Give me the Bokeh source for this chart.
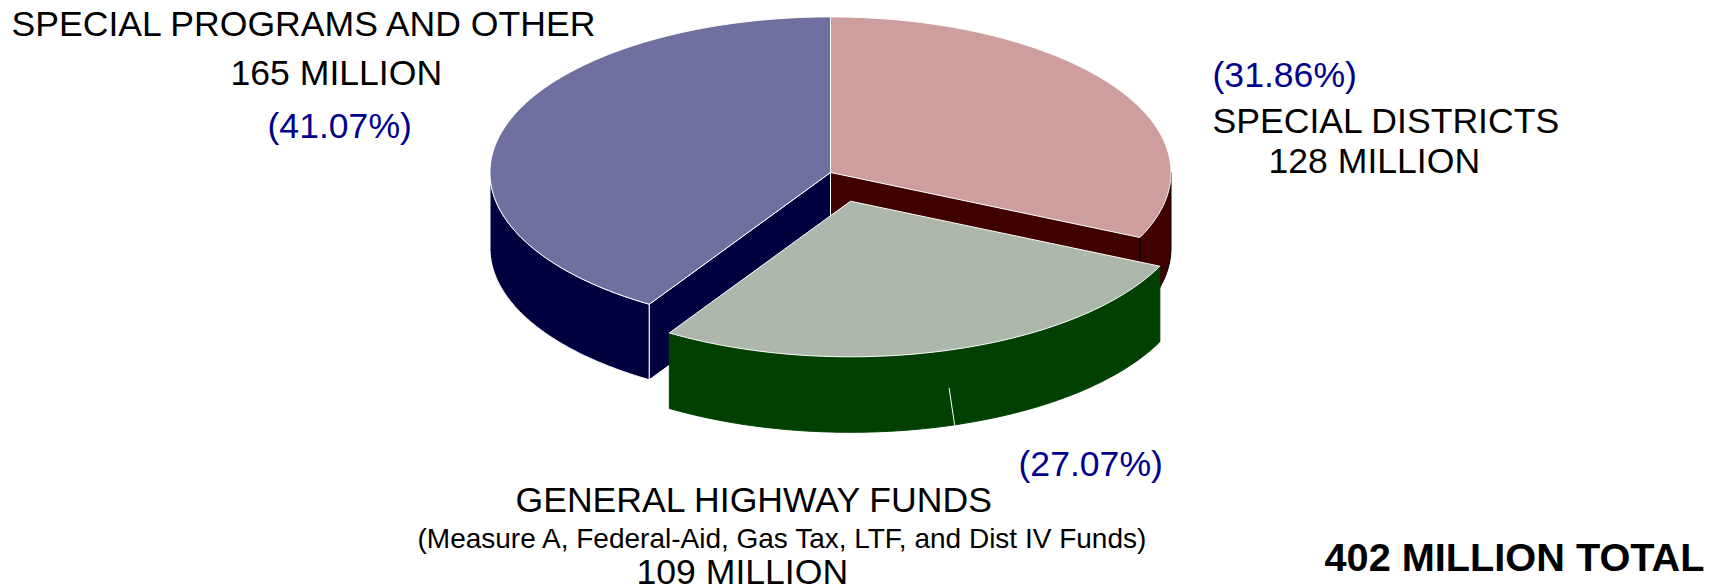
import numpy as np
from bokeh.plotting import figure
from bokeh.models import Range1d, ColumnDataSource
from bokeh.core.properties import value
from bokeh.embed import file_html
from bokeh.resources import INLINE

# data
slice_names = ["SPECIAL DISTRICTS", "GENERAL HIGHWAY FUNDS", "SPECIAL PROGRAMS AND OTHER"]
slice_millions = [128, 109, 165]
slice_shares = [31.86, 27.07, 41.07]
top_colors = ["#CE9E9E", "#ADB7AC", "#6F70A0"]
side_colors = ["#400000", "#004000", "#00003F"]

black_labels = ["SPECIAL PROGRAMS AND OTHER", "165 MILLION", "SPECIAL DISTRICTS", "128 MILLION",
                "GENERAL HIGHWAY FUNDS", "109 MILLION"]
black_x = [11, 230, 1212, 1268, 515, 636]
black_y = [23, 72, 120.5, 160, 499, 571.6]
blue_labels = ["(41.07%)", "(31.86%)", "(27.07%)"]
blue_x = [267, 1212, 1018]
blue_y = [125, 74, 463]
note_label = "(Measure A, Federal-Aid, Gas Tax, LTF, and Dist IV Funds)"
total_label = "402 MILLION TOTAL"

# projection of the tilted pie, in page pixels
W, H = 1717, 587
CX, CY, RX, RY, DEPTH = 830.0, 172.0, 340.5, 155.6, 75.5
EXPLODE = (20.0, 28.7)


def arc(a0, a1, cx, cy, dy=0.0):
    t = np.radians(np.linspace(a0, a1, max(2, int(abs(a1 - a0) * 2) + 1)))
    return cx + RX * np.sin(t), cy - RY * np.cos(t) + dy


edges = np.concatenate([[0.0], np.cumsum(slice_shares)]) / sum(slice_shares) * 360.0
a_pink, a_green, a_blue = edges[1], edges[2], edges[3]

p = figure(width=W, height=H, x_range=Range1d(0, W), y_range=Range1d(H, 0),
           toolbar_location=None, output_backend="svg", min_border=0, outline_line_color=None,
           background_fill_color="white", border_fill_color="white")
p.axis.visible = False
p.grid.visible = False


def poly(xs, ys, fill, line, lw=1.0):
    p.patch(list(xs), list(ys), fill_color=fill, line_color=line, line_width=lw)


def wall(a0, a1, cx, cy, fill, line):
    x, y = arc(a0, a1, cx, cy)
    xb, yb = arc(a1, a0, cx, cy, DEPTH)
    poly(np.r_[x, xb], np.r_[y, yb], fill, line)


def cut(a, cx, cy, fill, line):
    x, y = arc(a, a, cx, cy)
    xe, ye = x[0], y[0]
    poly([cx, xe, xe, cx], [cy, ye, ye + DEPTH, cy + DEPTH], fill, line)


def top(a0, a1, cx, cy, fill):
    x, y = arc(a0, a1, cx, cy)
    poly(np.r_[cx, x], np.r_[cy, y], fill, "white")


# back slices: walls and cut faces
wall(90, a_pink, CX, CY, side_colors[0], "black")
cut(a_pink, CX, CY, side_colors[0], "black")
wall(a_green, 270, CX, CY, side_colors[2], "white")
cut(a_green, CX, CY, side_colors[2], "white")
top(0, a_pink, CX, CY, top_colors[0])
top(a_green, 360, CX, CY, top_colors[2])

# exploded slice
gx, gy = CX + EXPLODE[0], CY + EXPLODE[1]
wall(a_pink, a_green, gx, gy, side_colors[1], "#004000")
top(a_pink, a_green, gx, gy, top_colors[1])
# stray seam on the wall
tx, ty = arc(162.2, 162.2, gx, gy, DEPTH)
p.line([tx[0] - 5.5, tx[0]], [ty[0] - 37, ty[0]], line_color="white", line_width=1)

font = value("Liberation Sans")
src = ColumnDataSource(dict(x=black_x, y=black_y, t=black_labels))
p.text("x", "y", text="t", source=src, text_font=font, text_font_size="35.6px", text_color="black",
       text_align="left", text_baseline="middle")
src = ColumnDataSource(dict(x=blue_x, y=blue_y, t=blue_labels))
p.text("x", "y", text="t", source=src, text_font=font, text_font_size="35.6px", text_color="#00008B",
       text_align="left", text_baseline="middle")
p.text([417], [537.6], text=[note_label], text_font=font, text_font_size="28px", text_color="black",
       text_align="left", text_baseline="middle")
p.text([1324], [556], text=[total_label], text_font=font, text_font_size="39.7px", text_font_style="bold",
       text_color="black", text_align="left", text_baseline="middle")

open("out.html", "w").write(file_html(p, INLINE))
